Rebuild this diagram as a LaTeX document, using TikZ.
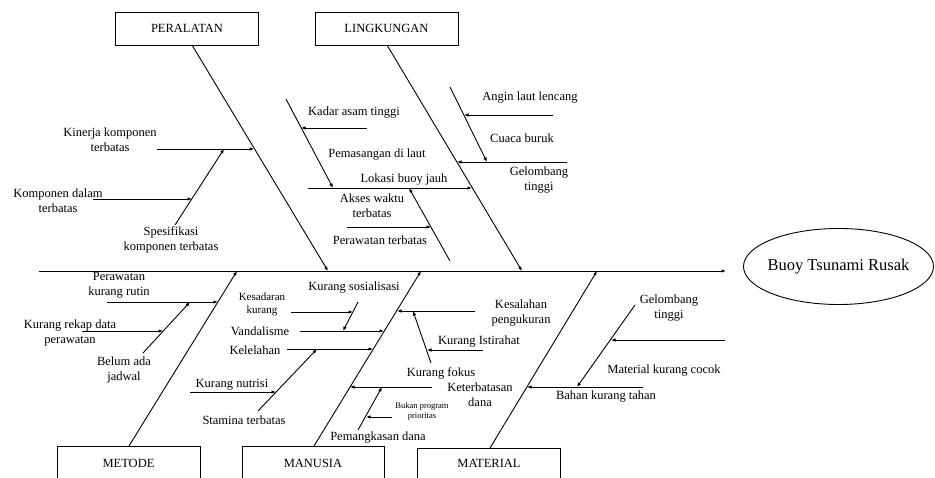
\documentclass[tikz,border=0pt]{standalone}
\usepackage{fontspec}
\setmainfont{Liberation Serif}
\usetikzlibrary{arrows.meta,shapes.geometric}
\begin{document}
\begin{tikzpicture}[x=1pt,y=-1pt,
  bone/.style={line width=0.9pt, -{Latex[length=4.5pt,width=3.6pt]}},
  edge/.style={line width=0.9pt},
  lbl/.style={font=\fontsize{12.5}{15}\selectfont, inner sep=0pt, align=center},
  smalllbl/.style={font=\fontsize{11}{13}\selectfont, inner sep=0pt, align=center},
  tinylbl/.style={font=\fontsize{8.5}{10.5}\selectfont, inner sep=0pt, align=center},
  catbox/.style={draw, line width=0.9pt, minimum width=143pt, minimum height=33pt, inner sep=0pt, font=\fontsize{12.5}{15}\selectfont}
]
\useasboundingbox (0,0) rectangle (935,478);

% ---------- category boxes ----------
\node[catbox] (peralatan) at (187,28.5) {PERALATAN};
\node[catbox] (lingkungan) at (386.5,28.5) {LINGKUNGAN};
\node[lbl] (metode) at (128.5,463) {METODE};
\draw[edge] (57,478) -- (57,446) -- (200,446) -- (200,478);
\node[lbl] (manusia) at (313,463) {MANUSIA};
\draw[edge] (242,478) -- (242,446) -- (384,446) -- (384,478);
\node[lbl] (material) at (489,463) {MATERIAL};
\draw[edge] (417,478) -- (417,448) -- (560,448) -- (560,478);

% ---------- effect ----------
\node[ellipse, draw, line width=0.9pt, minimum width=190pt, minimum height=76pt, inner sep=0pt,
      font=\fontsize{16.5}{18}\selectfont] (effect) at (838.5,266.5) {\makebox[0pt]{Buoy Tsunami Rusak}};

% ---------- spine ----------
\coordinate (spineL) at (39,271);
\coordinate (spineR) at (726,271);
\draw[bone] (spineL) -- (spineR);

% ---------- PERALATAN ----------
\coordinate (pTop) at (192,45);
\coordinate (pEnd) at (328,271);
\draw[bone] (pTop) -- (pEnd);
\coordinate (kinA) at (157,149); \coordinate (kinB) at (254,149);
\draw[bone] (kinA) -- (kinB);
\coordinate (speA) at (175,225); \coordinate (speB) at (224,149);
\draw[bone] (speA) -- (speB);
\coordinate (komA) at (93,199); \coordinate (komB) at (192,199);
\draw[bone] (komA) -- (komB);
\node[lbl] (tKinerja) at (110,139.5) {Kinerja komponen\\terbatas};
\node[lbl] (tKomponen) at (58,200.5) {Komponen dalam\\terbatas};
\node[lbl] (tSpesifikasi) at (171,240) {Spesifikasi\\komponen terbatas};

% ---------- LINGKUNGAN ----------
\coordinate (lTop) at (387,45);
\coordinate (lEnd) at (522,271);
\draw[bone] (lTop) -- (lEnd);
\coordinate (gelA) at (567,162); \coordinate (gelB) at (457,162);
\draw[bone] (gelA) -- (gelB);
\coordinate (cuaA) at (450,87); \coordinate (cuaB) at (487,162);
\draw[bone] (cuaA) -- (cuaB);
\coordinate (angA) at (553,115); \coordinate (angB) at (464,115);
\draw[bone] (angA) -- (angB);
\coordinate (lokA) at (308,188); \coordinate (lokB) at (472,188);
\draw[bone] (lokA) -- (lokB);
\coordinate (pemA) at (286,99); \coordinate (pemB) at (333,188);
\draw[bone] (pemA) -- (pemB);
\coordinate (kadA) at (367,128); \coordinate (kadB) at (301,128);
\draw[bone] (kadA) -- (kadB);
\coordinate (aksA) at (450,261); \coordinate (aksB) at (409,188);
\draw[bone] (aksA) -- (aksB);
\coordinate (perA) at (347,227); \coordinate (perB) at (431,227);
\draw[bone] (perA) -- (perB);
\node[lbl] (tKadar) at (354,113) {Kadar asam tinggi};
\node[lbl] (tPemasangan) at (377,155) {Pemasangan di laut};
\node[lbl] (tLokasi) at (404,180) {Lokasi buoy jauh};
\node[lbl] (tAkses) at (372,205.5) {Akses waktu\\terbatas};
\node[lbl] (tPerawatanT) at (380,240) {Perawatan terbatas};
\node[lbl] (tAngin) at (530,98) {Angin laut lencang};
\node[lbl] (tCuaca) at (522,138) {Cuaca buruk};
\node[lbl] (tGelombang) at (539,180) {Gelombang\\tinggi};

% ---------- METODE ----------
\coordinate (mTop) at (129,446);
\coordinate (mEnd) at (237,271);
\draw[bone] (mTop) -- (mEnd);
\coordinate (prwA) at (107,302); \coordinate (prwB) at (218,302);
\draw[bone] (prwA) -- (prwB);
\coordinate (belA) at (143,353); \coordinate (belB) at (190,302);
\draw[bone] (belA) -- (belB);
\coordinate (rekA) at (82,331); \coordinate (rekB) at (163,331);
\draw[bone] (rekA) -- (rekB);
\node[lbl] (tPerawatanK) at (119,285.5) {Perawatan\\kurang rutin};
\node[lbl] (tRekap) at (70,332.5) {Kurang rekap data\\perawatan};
\node[lbl] (tBelum) at (124,370) {Belum ada\\jadwal};

% ---------- MANUSIA ----------
\coordinate (hTop) at (314,446);
\coordinate (hEnd) at (421,271);
\draw[bone] (hTop) -- (hEnd);
\coordinate (vanA) at (300,331); \coordinate (vanB) at (384,331);
\draw[bone] (vanA) -- (vanB);
\coordinate (sosA) at (358,302); \coordinate (sosB) at (343,331);
\draw[bone] (sosA) -- (sosB);
\coordinate (kesA) at (291,312); \coordinate (kesB) at (353,312);
\draw[bone] (kesA) -- (kesB);
\coordinate (kelA) at (287,349); \coordinate (kelB) at (373,349);
\draw[bone] (kelA) -- (kelB);
\coordinate (staA) at (258,411); \coordinate (staB) at (317,349);
\draw[bone] (staA) -- (staB);
\coordinate (nutA) at (190,392); \coordinate (nutB) at (276,392);
\draw[bone] (nutA) -- (nutB);
\coordinate (salA) at (475,311); \coordinate (salB) at (397,311);
\draw[bone] (salA) -- (salB);
\coordinate (fokA) at (431,363); \coordinate (fokB) at (413,311);
\draw[bone] (fokA) -- (fokB);
\coordinate (istA) at (483,350); \coordinate (istB) at (427,350);
\draw[bone] (istA) -- (istB);
\coordinate (danA) at (432,387); \coordinate (danB) at (350,387);
\draw[bone] (danA) -- (danB);
\coordinate (pngA) at (358,430); \coordinate (pngB) at (382,387);
\draw[bone] (pngA) -- (pngB);
\coordinate (bukA) at (392,417); \coordinate (bukB) at (366,417);
\draw[bone] (bukA) -- (bukB);
\node[smalllbl] (tKesadaran) at (262,304.5) {Kesadaran\\kurang};
\node[lbl] (tSosialisasi) at (354,288) {Kurang sosialisasi};
\node[lbl] (tVandalisme) at (260,331) {Vandalisme};
\node[lbl] (tKelelahan) at (255,350) {Kelelahan};
\node[lbl] (tNutrisi) at (232,385) {Kurang nutrisi};
\node[lbl] (tStamina) at (244,420) {Stamina terbatas};
\node[lbl] (tKesalahan) at (521,313.5) {Kesalahan\\pengukuran};
\node[lbl] (tIstirahat) at (479,342) {Kurang Istirahat};
\node[lbl] (tFokus) at (441,373) {Kurang fokus};
\node[lbl] (tDana) at (480,395) {Keterbatasan\\dana};
\node[tinylbl] (tBukan) at (422,411.5) {Bukan program\\prioritas};
\node[lbl] (tPemangkasan) at (378,438) {Pemangkasan dana};

% ---------- MATERIAL ----------
\coordinate (tTop) at (490,448);
\coordinate (tEnd) at (597,271);
\draw[bone] (tTop) -- (tEnd);
\coordinate (bahA) at (643,387); \coordinate (bahB) at (527,387);
\draw[bone] (bahA) -- (bahB);
\coordinate (gmbA) at (635,305); \coordinate (gmbB) at (577,387);
\draw[bone] (gmbA) -- (gmbB);
\coordinate (matA) at (725,340); \coordinate (matB) at (611,340);
\draw[bone] (matA) -- (matB);
\node[lbl] (tGelombangM) at (669,308.5) {Gelombang\\tinggi};
\node[lbl] (tMaterial) at (664,371) {Material kurang cocok};
\node[lbl] (tBahan) at (606,397) {Bahan kurang tahan};

\end{tikzpicture}
\end{document}
